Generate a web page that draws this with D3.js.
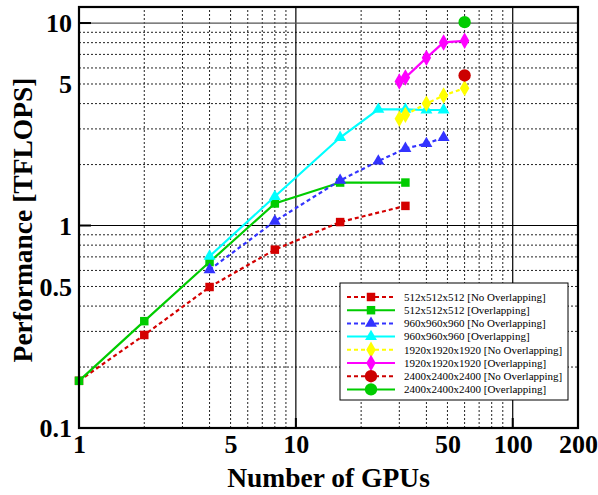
<!DOCTYPE html>
<html><head><meta charset="utf-8">
<script src="https://cdn.jsdelivr.net/npm/d3@7"></script>
<style>body{margin:0;background:#fff}svg{display:block}</style>
</head><body>
<svg id="c" width="598" height="495"></svg>
<script>
// ---- data ----
const gpus512 = [1, 2, 4, 8, 16, 32];
const perf512NoOv = [0.171, 0.288, 0.497, 0.76, 1.04, 1.25];
const perf512Ov = [0.171, 0.337, 0.66, 1.285, 1.63, 1.63];
const gpus960 = [4, 8, 16, 24, 32, 40, 48];
const perf960NoOv = [0.605, 1.05, 1.67, 2.08, 2.4, 2.54, 2.72];
const perf960Ov = [0.705, 1.39, 2.72, 3.75, 3.75, 3.72, 3.72];
const gpus1920 = [30, 32, 40, 48, 60];
const perf1920NoOv = [3.37, 3.52, 4.0, 4.39, 4.77];
const perf1920Ov = [5.14, 5.38, 6.73, 8.02, 8.17];
const gpus2400 = [60];
const perf2400NoOv = [5.51];
const perf2400Ov = [10.1];
const xTicks = [1, 5, 10, 50, 100, 200];
const yTicks = [0.1, 0.5, 1, 5, 10];
const seriesNames = [
  "512x512x512 [No Overlapping]", "512x512x512 [Overlapping]",
  "960x960x960 [No Overlapping]", "960x960x960 [Overlapping]",
  "1920x1920x1920 [No Overlapping]", "1920x1920x1920 [Overlapping]",
  "2400x2400x2400 [No Overlapping]", "2400x2400x2400 [Overlapping]"
];

const series = [
  {name: seriesNames[0], x: gpus512, y: perf512NoOv, color: "#d40000", dash: true, sym: d3.symbolSquare, size: 72},
  {name: seriesNames[1], x: gpus512, y: perf512Ov, color: "#00cc00", dash: false, sym: d3.symbolSquare, size: 72},
  {name: seriesNames[2], x: gpus960, y: perf960NoOv, color: "#3333ff", dash: true, sym: d3.symbolTriangle, size: 62},
  {name: seriesNames[3], x: gpus960, y: perf960Ov, color: "#00ffff", dash: false, sym: d3.symbolTriangle, size: 62},
  {name: seriesNames[4], x: gpus1920, y: perf1920NoOv, color: "#ffff00", dash: true, sym: d3.symbolDiamond, size: 78},
  {name: seriesNames[5], x: gpus1920, y: perf1920Ov, color: "#ff00ff", dash: false, sym: d3.symbolDiamond, size: 78},
  {name: seriesNames[6], x: gpus2400, y: perf2400NoOv, color: "#cc0000", dash: true, sym: d3.symbolCircle, size: 120},
  {name: seriesNames[7], x: gpus2400, y: perf2400Ov, color: "#00cc00", dash: false, sym: d3.symbolCircle, size: 120}
];

const W = 598, H = 495;
const m = {l: 79, t: 7, r: 20, b: 67};
const svg = d3.select("#c");
const x = d3.scaleLog().domain([1, 200]).range([m.l, W - m.r]);
const y = d3.scaleLog().domain([0.1, 12]).range([H - m.b, m.t]);
const serif = "'Liberation Serif','Times New Roman',serif";

// grid
const xMinor = [2,3,4,5,6,7,8,9,20,30,40,50,60,70,80,90];
const xMajor = [10, 100];
const yMinor = [0.2,0.3,0.4,0.5,0.6,0.7,0.8,0.9,2,3,4,5,6,7,8,9];
const yMajor = [1, 10];
const g = svg.append("g");
g.selectAll(".vx").data(xMinor).join("line")
  .attr("x1", d => x(d)).attr("x2", d => x(d)).attr("y1", y.range()[0]).attr("y2", y.range()[1])
  .attr("stroke", "#222").attr("stroke-width", 1).attr("stroke-dasharray", "2,2");
g.selectAll(".hy").data(yMinor).join("line")
  .attr("y1", d => y(d)).attr("y2", d => y(d)).attr("x1", x.range()[0]).attr("x2", x.range()[1])
  .attr("stroke", "#222").attr("stroke-width", 1).attr("stroke-dasharray", "2,2");
g.selectAll(".vX").data(xMajor).join("line")
  .attr("x1", d => x(d)).attr("x2", d => x(d)).attr("y1", y.range()[0]).attr("y2", y.range()[1])
  .attr("stroke", "#000").attr("stroke-width", 1.2);
g.selectAll(".hY").data(yMajor).join("line")
  .attr("y1", d => y(d)).attr("y2", d => y(d)).attr("x1", x.range()[0]).attr("x2", x.range()[1])
  .attr("stroke", d => d === 10 ? "#555" : "#000").attr("stroke-width", 1.2);

// axes with ticks
const xAxis = d3.axisBottom(x).tickValues(xTicks).tickFormat(d3.format("d")).tickSize(0).tickPadding(5);
const yAxis = d3.axisLeft(y).tickValues(yTicks).tickFormat(d => String(d)).tickSize(0).tickPadding(7);
const gx = svg.append("g").attr("transform", `translate(0,${H - m.b})`).call(xAxis);
const gy = svg.append("g").attr("transform", `translate(${m.l},0)`).call(yAxis);
[gx, gy].forEach(a => {
  a.select(".domain").remove();
  a.selectAll("text").attr("font-family", serif).attr("font-weight", "bold").attr("font-size", 26).attr("fill", "#000");
});
gx.selectAll("text").attr("dy", "0.78em");
gy.selectAll("text").attr("dy", "0.34em");

// major ticks marks
svg.append("g").selectAll("line").data([1, 10]).join("line")
  .attr("x1", m.l).attr("x2", m.l + 12).attr("y1", d => y(d)).attr("y2", d => y(d))
  .attr("stroke", "#000").attr("stroke-width", 2);
svg.append("g").selectAll("line").data([10, 100]).join("line")
  .attr("y1", H - m.b).attr("y2", H - m.b - 10).attr("x1", d => x(d)).attr("x2", d => x(d))
  .attr("stroke", "#000").attr("stroke-width", 2);

// series
const line = d3.line().x(d => x(d[0])).y(d => y(d[1]));
series.forEach(s => {
  const pts = s.x.map((v, i) => [v, s.y[i]]);
  svg.append("path").datum(pts).attr("d", line).attr("fill", "none")
    .attr("stroke", s.color).attr("stroke-width", 2.2)
    .attr("stroke-dasharray", s.dash ? "4,3" : null);
  svg.append("g").selectAll("path").data(pts).join("path")
    .attr("transform", d => `translate(${x(d[0])},${y(d[1])})`)
    .attr("d", d3.symbol().type(s.sym).size(s.size)).attr("fill", s.color);
});

// frame
svg.append("rect").attr("x", m.l).attr("y", m.t).attr("width", W - m.l - m.r).attr("height", H - m.t - m.b)
  .attr("fill", "none").attr("stroke", "#000").attr("stroke-width", 2.2);

// legend
const lg = svg.append("g").attr("transform", "translate(340,283)");
lg.append("rect").attr("x", 0).attr("y", 0).attr("width", 228).attr("height", 117)
  .attr("fill", "#fff").attr("stroke", "#000").attr("stroke-width", 1);
series.forEach((s, i) => {
  const yy = 14 + i * 13.2;
  lg.append("line").attr("x1", 7).attr("x2", 55).attr("y1", yy).attr("y2", yy)
    .attr("stroke", s.color).attr("stroke-width", 2).attr("stroke-dasharray", s.dash ? "4,3" : null);
  lg.append("path").attr("transform", `translate(31,${yy})`)
    .attr("d", d3.symbol().type(s.sym).size(s.size)).attr("fill", s.color);
  lg.append("text").attr("x", 64).attr("y", yy).attr("dy", "0.35em")
    .attr("font-family", serif).attr("font-size", 11).attr("fill", "#000").text(s.name);
});

// axis titles
svg.append("text").attr("x", (m.l + W - m.r) / 2).attr("y", 487).attr("text-anchor", "middle")
  .attr("font-family", serif).attr("font-weight", "bold").attr("font-size", 27.5).text("Number of GPUs");
svg.append("text").attr("transform", `translate(32,220) rotate(-90)`)
  .attr("text-anchor", "middle").attr("font-family", serif).attr("font-weight", "bold").attr("font-size", 27.5)
  .text("Performance [TFLOPS]");
</script>
</body></html>
